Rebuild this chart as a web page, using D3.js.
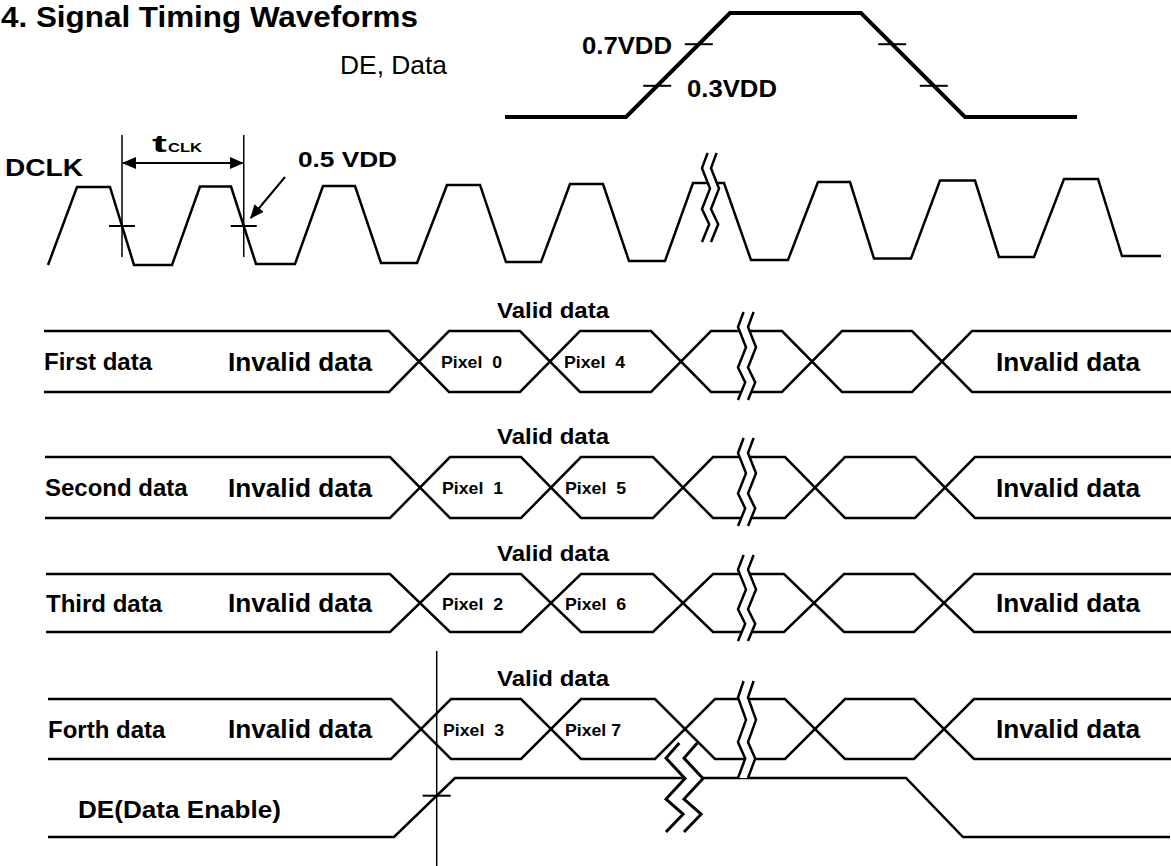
<!DOCTYPE html>
<html>
<head>
<meta charset="utf-8">
<script src="https://cdn.jsdelivr.net/npm/d3@7"></script>
<style>
  html, body { margin: 0; padding: 0; background: #fff; }
  svg { display: block; font-family: "Liberation Sans", Arial, sans-serif; }
</style>
</head>
<body>
<script>
const width = 1171;
const height = 866;

// ---- values ----
const titleText = "4. Signal Timing Waveforms";

// DE / Data threshold sketch: time and level (0 = low, 1 = high)
const refT = [505, 626, 730, 861, 965, 1077];
const refV = [0, 0, 1, 1, 0, 0];
const refLevels = [0.7, 0.3];
const refLevelLabels = ["0.7VDD", "0.3VDD"];

// DCLK edges (times) and levels, the drawing drifts up slightly to the right
const clkT = [48, 77, 110, 134, 172, 200, 231, 256, 295, 323, 355, 381, 417, 447, 480, 506, 541,
  570, 603, 629, 665, 693, 724, 751, 788, 818, 850, 874, 911, 940, 975, 999, 1034, 1064, 1098, 1122, 1161];
const clkV = [0, 1, 1, 0, 0, 1.006, 1.006, 0.013, 0.013, 1.013, 1.013, 0.026, 0.026, 1.026, 1.026,
  0.038, 0.038, 1.038, 1.038, 0.051, 0.051, 1.051, 1.051, 0.064, 0.064, 1.064, 1.064, 0.083, 0.083,
  1.083, 1.083, 0.103, 0.103, 1.103, 1.103, 0.115, 0.115];
const clkMark = 0.5;

// data buses
const rowNames = ["First data", "Second data", "Third data", "Forth data"];
const pixelNames = [["Pixel  0", "Pixel  4"], ["Pixel  1", "Pixel  5"], ["Pixel  2", "Pixel  6"], ["Pixel  3", "Pixel 7"]];
const rowCross = [
  [419, 550, 681, 812, 942],
  [420, 551, 683, 815, 945],
  [420, 551, 683, 814, 944],
  [421, 551, 685, 815, 944]
];
const rowStart = [44, 45, 46, 48];

// DE (Data Enable)
const deT = [48, 394, 455, 906, 963, 1170];
const deV = [0, 0, 1, 1, 0, 0];
const deMark = 0.7;

// ---- layout ----
const rowTop = [331, 457, 574, 699];
const rowBottom = [392, 518, 632, 759];
const rowBreak = [[312, 400], [438, 526], [555, 641], [681, 778]];
const half = 30;

const svg = d3.select("body").append("svg")
  .attr("width", width)
  .attr("height", height)
  .attr("viewBox", [0, 0, width, height]);

const x = d3.scaleLinear().domain([0, width]).range([0, width]);
const yRef = d3.scaleLinear().domain([0, 1]).range([117, 13]);
const yClk = d3.scaleLinear().domain([0, 1]).range([265, 187]);
const yDe = d3.scaleLinear().domain([0, 1]).range([837, 778]);

const pathOf = (ys) => d3.line().x(d => x(d[0])).y(d => ys(d[1]));

function wave(T, V, ys, sw) {
  svg.append("path")
    .attr("d", pathOf(ys)(T.map((t, i) => [t, V[i]])))
    .attr("fill", "none")
    .attr("stroke", "#000")
    .attr("stroke-width", sw)
    .attr("stroke-linejoin", "miter");
}

// where a waveform passes a level
function crossings(T, V, lvl) {
  const out = [];
  for (let i = 0; i < T.length - 1; i++) {
    const a = V[i], b = V[i + 1];
    if ((a - lvl) * (b - lvl) < 0) out.push(T[i] + (lvl - a) / (b - a) * (T[i + 1] - T[i]));
  }
  return out;
}

function seg(x1, y1, x2, y2, sw) {
  return svg.append("line")
    .attr("x1", x1).attr("y1", y1).attr("x2", x2).attr("y2", y2)
    .attr("stroke", "#000").attr("stroke-width", sw);
}

function label(str, x0, y0, size, weight, len) {
  const t = svg.append("text")
    .attr("x", x0).attr("y", y0)
    .attr("font-size", size)
    .attr("font-weight", weight)
    .attr("fill", "#000")
    .style("white-space", "pre")
    .text(str);
  if (len) t.attr("textLength", len).attr("lengthAdjust", "spacingAndGlyphs");
  return t;
}

// break symbol: two parallel zig-zags with white between
const breakShape = [[0.7, 0], [0, 0.17], [1, 0.4], [0, 0.63], [0.9, 0.8], [0, 1]];
function drawBreak(x0, y0, y1, amp, gap, sw) {
  const a = breakShape.map(([u, t]) => [x0 + u * amp, y0 + t * (y1 - y0)]);
  const b = a.map(([px, py]) => [px + gap, py]);
  svg.append("path")
    .attr("d", d3.line()(a.concat(b.slice().reverse())) + "Z")
    .attr("fill", "#fff");
  [a, b].forEach(p => svg.append("path")
    .attr("d", d3.line()(p))
    .attr("fill", "none").attr("stroke", "#000").attr("stroke-width", sw));
}

// arrow heads
const defs = svg.append("defs");
defs.append("marker")
  .attr("id", "head")
  .attr("markerUnits", "userSpaceOnUse")
  .attr("viewBox", "0 0 14 12")
  .attr("refX", 13).attr("refY", 6)
  .attr("markerWidth", 14).attr("markerHeight", 12)
  .attr("orient", "auto-start-reverse")
  .append("path").attr("d", "M0,0L14,6L0,12Z").attr("fill", "#000");

// ---- title ----
label(titleText, 1, 27, 30, "bold", 417);

// ---- DE, Data threshold sketch ----
label("DE, Data", 340, 74, 25, "normal", 107);
wave(refT, refV, yRef, 4);
refLevels.forEach((lvl, k) => {
  crossings(refT, refV, lvl).forEach(cx => seg(x(cx) - 14, yRef(lvl), x(cx) + 14, yRef(lvl), 2));
});
label(refLevelLabels[0], 582, 54, 24, "bold", 90);
label(refLevelLabels[1], 687, 97, 24, "bold", 90);

// ---- DCLK ----
label("DCLK", 5, 176, 24, "bold", 78);
wave(clkT, clkV, yClk, 2.5);
const clkEdges = crossings(clkT, clkV, clkMark);
const tA = clkEdges[1], tB = clkEdges[3];
[tA, tB].forEach(cx => {
  seg(x(cx) - 13, yClk(clkMark), x(cx) + 13, yClk(clkMark), 2);
  seg(x(cx), 135, x(cx), 257, 1.5);
});
seg(x(tA) + 1, 163, x(tB) - 1, 163, 2)
  .attr("marker-start", "url(#head)")
  .attr("marker-end", "url(#head)");
label("t", 152, 152, 24, "bold", 15);
label("CLK", 168, 152, 12, "bold", 34);
label("0.5 VDD", 298, 167, 22, "bold", 99);
seg(285, 177, x(tB) + 7, 218, 2).attr("marker-end", "url(#head)");
drawBreak(702, 153, 242, 8, 9, 2.5);

// ---- data rows ----
rowNames.forEach((name, r) => {
  const top = rowTop[r], bot = rowBottom[r], mid = (top + bot) / 2;
  const yRow = d3.scaleLinear().domain([0, 1]).range([bot, top]);
  const a = [[rowStart[r], 1]], b = [[rowStart[r], 0]];
  rowCross[r].forEach((c, i) => {
    const s = i % 2 === 0 ? 1 : 0;
    a.push([c - half, s], [c + half, 1 - s]);
    b.push([c - half, 1 - s], [c + half, s]);
  });
  const s = rowCross[r].length % 2 === 0 ? 1 : 0;
  a.push([width, s]);
  b.push([width, 1 - s]);
  [a, b].forEach(p => svg.append("path")
    .attr("d", pathOf(yRow)(p))
    .attr("fill", "none").attr("stroke", "#000").attr("stroke-width", 2.5));

  label("Valid data", 497, top - 13, 22, "bold", 112);
  label(name, rowStart[r], mid + 8.5, 24, "bold", null);
  label("Invalid data", 228, mid + 9, 26, "bold", 144);
  label("Invalid data", 996, mid + 9, 26, "bold", 144);
  pixelNames[r].forEach((p, i) => {
    label(p, x(rowCross[r][i]) + 22 - (i ? 8 : 0), mid + 6.5, 17, "bold", p.length > 7 ? 61 : 56);
  });
});

// ---- DE ----
wave(deT, deV, yDe, 2.5);
const deX = crossings(deT, deV, deMark)[0];
seg(x(deX) - 14, yDe(deMark), x(deX) + 14, yDe(deMark), 2);
seg(x(deX), 651, x(deX), height, 1.5);
label("DE(Data Enable)", 78, 818, 24, "bold", 203);

// breaks drawn over the lines
rowBreak.forEach(([y0, y1]) => drawBreak(738, y0, y1, 8, 10, 2.5));
drawBreak(666, 743, 832, 19, 18, 3);
</script>
</body>
</html>
